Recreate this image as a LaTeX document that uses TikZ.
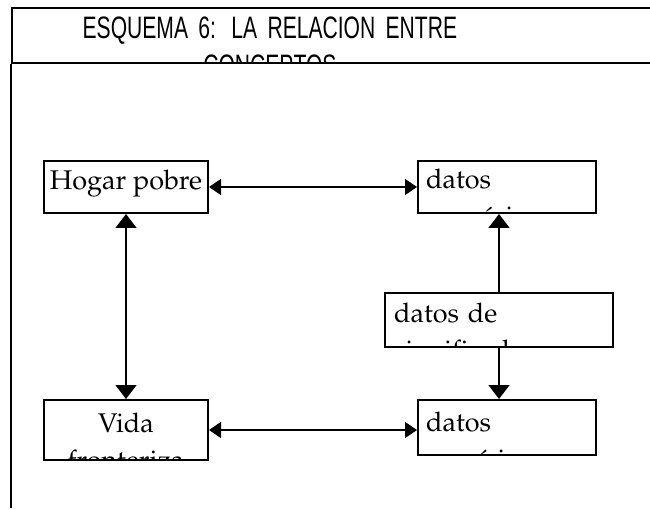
\documentclass[tikz,border=0pt]{standalone}
\usepackage{fontspec}
\newfontfamily\titlefont[FakeStretch=0.68]{Liberation Sans}
\newcommand\palfont{\fontencoding{T1}\fontfamily{ppl}\fontsize{27pt}{37pt}\selectfont}
\usetikzlibrary{arrows.meta}
\tikzset{
    frame/.style={draw, line width=1.8pt, inner sep=0pt, anchor=north west},
    concept/.style={frame, line width=2pt},
    word/.style={font=\palfont, inner sep=0pt},
    hlink/.style={line width=1.4pt, {Triangle[length=12pt,width=16pt]}-{Triangle[length=12pt,width=16pt]}},
    vlink/.style={line width=1.4pt, {Triangle[length=14pt,width=21pt]}-{Triangle[length=14pt,width=21pt]}},
    uplink/.style={line width=1.4pt, -{Triangle[length=14pt,width=21pt]}}
}
\begin{document}
\begin{tikzpicture}[x=1pt, y=-1pt]
    \useasboundingbox (0, 0) rectangle (650, 510);
    \node[frame, minimum width=660pt, minimum height=55pt,
        path picture={\node[font=\titlefont\fontsize{31pt}{37.6pt}\selectfont, inner sep=0pt, text width=500pt, align=center, anchor=base]
            at ([xshift=258pt, yshift=-30.7pt]path picture bounding box.north west) {ESQUEMA 6: LA RELACION ENTRE\\CONCEPTOS};}]
        (title) at (11, 7) {};
    \coordinate (foot) at (11, 508);
    \draw[line width=1.8pt] (title.south west) -- (foot);

    \node[concept, minimum width=164pt, minimum height=52pt,
        path picture={\node[word, anchor=base] at ([yshift=-29pt]path picture bounding box.north) {Hogar pobre};}]
        (hogar) at (43, 160) {};
    \node[concept, minimum width=178pt, minimum height=52pt,
        path picture={\node[word, text width=170pt, align=left, anchor=base west] at ([xshift=3pt, yshift=-28pt]path picture bounding box.north west) {datos\\num\'ericos};}]
        (numericos) at (417, 160) {};
    \node[concept, minimum width=228pt, minimum height=54pt,
        path picture={\node[word, text width=220pt, align=left, anchor=base west] at ([xshift=4pt, yshift=-30pt]path picture bounding box.north west) {datos de\\significado};}]
        (significado) at (384, 292) {};
    \node[concept, minimum width=164pt, minimum height=60pt,
        path picture={\node[word, text width=164pt, align=center, anchor=base] at ([yshift=-32pt]path picture bounding box.north) {Vida\\fronteriza};}]
        (vida) at (43, 399) {};
    \node[concept, minimum width=178pt, minimum height=55pt,
        path picture={\node[word, text width=170pt, align=left, anchor=base west] at ([xshift=3pt, yshift=-31pt]path picture bounding box.north west) {datos\\emp\'iricos};}]
        (empiricos) at (417, 399) {};

    \draw[hlink] (hogar.east) -- (numericos.west);
    \draw[hlink] (vida.east) -- (vida.east -| empiricos.west);
    \draw[vlink] (hogar.south) -- (vida.north);
    \draw[uplink] (significado.north) -- (significado.north |- numericos.south);
    \draw[uplink] (significado.south) -- (significado.south |- empiricos.north);
\end{tikzpicture}
\end{document}
